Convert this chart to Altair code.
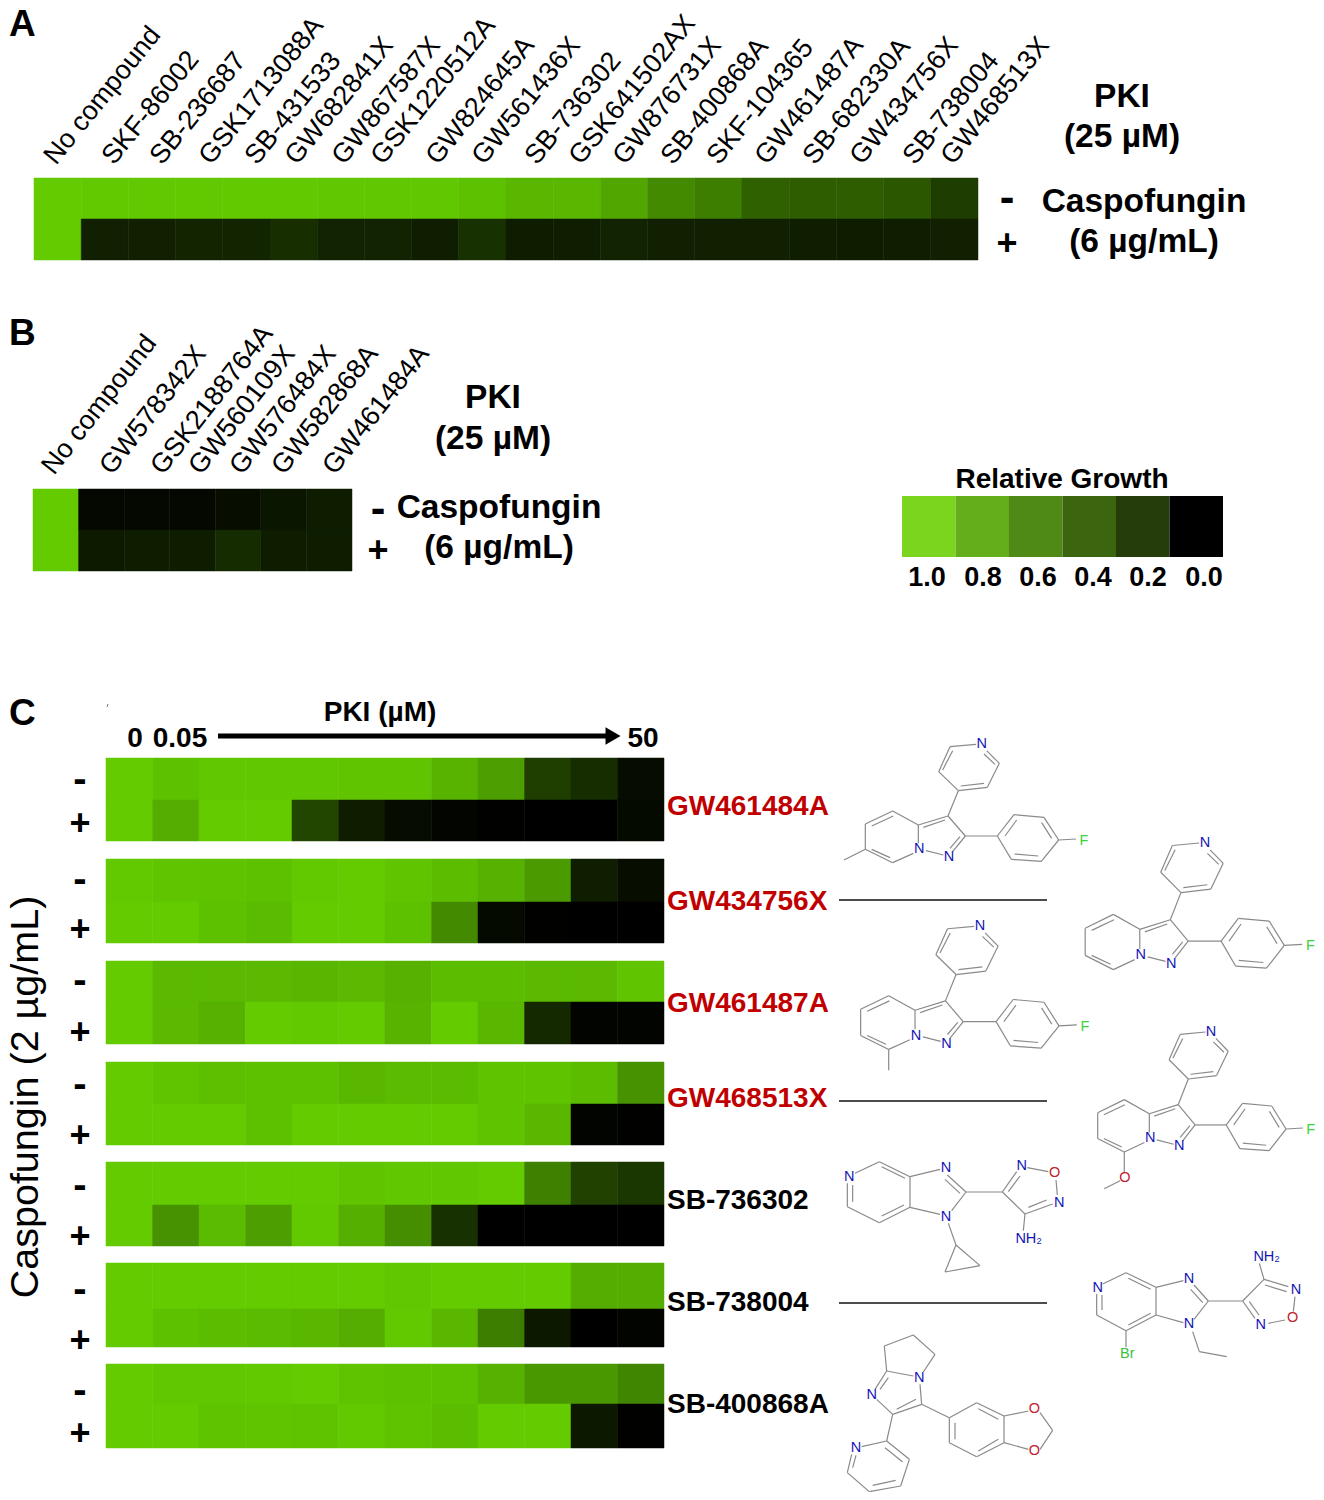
import altair as alt
import pandas as pd

FONT = "Liberation Sans"
TOP = "#63cb00"

# ---------- data ----------
compounds_a = ["No compound", "SKF-86002", "SB-236687", "GSK1713088A", "SB-431533", "GW682841X",
               "GW867587X", "GSK1220512A", "GW824645A", "GW561436X", "SB-736302", "GSK641502AX",
               "GW876731X", "SB-400868A", "SKF-104365", "GW461487A", "SB-682330A", "GW434756X",
               "SB-738004", "GW468513X"]
a_minus = [1, .99, .99, .99, .99, .99, .98, .98, .98, .95, .90, .90, .82, .68, .62, .48, .46, .46, .43, .30]
a_plus = [1, .16, .16, .18, .18, .23, .17, .17, .15, .24, .14, .15, .17, .16, .16, .16, .15, .14, .15, .16]

compounds_b = ["No compound", "GW578342X", "GSK2188764A", "GW560109X", "GW576484X", "GW582868A", "GW461484A"]
b_minus = [1, .04, .04, .04, .07, .11, .14]
b_plus = [1, .13, .14, .14, .21, .14, .14]

legend_labels = ["1.0", "0.8", "0.6", "0.4", "0.2", "0.0"]
legend_colors = ["#7bd41e", "#64ae1c", "#4f8a16", "#3c6510", "#243d0b", "#000000"]

compounds_c = ["GW461484A", "GW434756X", "GW461487A", "GW468513X", "SB-736302", "SB-738004", "SB-400868A"]
compound_colors = ["#c00000"] * 4 + ["#000000"] * 3
c_minus = [
    [1, .95, .98, .98, .98, .97, .97, .88, .78, .31, .22, .06],
    [.99, .97, .96, .95, .99, 1, .97, .93, .87, .76, .15, .07],
    [1, .91, .91, .91, .89, .91, .87, .93, .93, .91, .91, .97],
    [1, .97, .94, .95, .95, .90, .92, .92, .96, .96, .93, .72],
    [1, 1, 1, 1, 1, .97, .98, .98, 1, .63, .32, .27],
    [1, 1, 1, 1, 1, 1, .98, 1, 1, 1, .85, .85],
    [1, .98, .98, .99, 1, .96, .95, .95, .87, .75, .75, .66],
]
c_plus = [
    [1, .85, 1, 1, .34, .14, .06, .03, .01, 0, 0, .05],
    [1, 1, .95, .92, 1, 1, .95, .68, .05, .01, 0, 0],
    [1, .91, .87, 1, .99, 1, .88, 1, .90, .20, .02, .02],
    [1, 1, 1, .95, 1, 1, 1, 1, .96, .90, .02, .01],
    [1, .72, .92, .78, .99, .86, .70, .24, 0, 0, 0, 0],
    [1, .95, .93, .92, .90, .85, .99, .90, .62, .12, 0, .02],
    [1, 1, .96, .97, .96, .99, .96, .93, 1, 1, .12, .01],
]

# ---------- layout (page pixels) ----------
A_X, A_Y = (34, 978), (178, 260)
B_X, B_Y = (33, 352), (489, 571)
LEG_X, LEG_Y = (902, 1223), (496, 557)
C_X = (106, 664)
C_RANGES = [(758, 800, 841), (859, 902, 943), (961, 1002, 1044), (1062, 1104, 1145),
            (1162, 1205, 1246), (1263, 1309, 1347), (1364, 1404, 1448)]
C_SIGNS = [(781, 823), (881, 929), (982, 1032), (1086, 1135), (1187, 1236), (1291, 1340), (1392, 1433)]
C_BASE = [815, 910, 1012, 1107, 1209, 1311, 1413]

A_LABEL_X = [56, 114, 162, 211, 257, 297, 344, 383, 438, 484, 537, 581, 625, 673, 719, 767, 815, 862, 915, 953]
A_LABEL_Y = 166
B_LABEL_X = [54, 112, 163, 201, 242, 284, 335]
B_LABEL_Y = 476

PX = alt.Scale(domain=[8, 1316], range=[0, 1308], nice=False, zero=False)
PY = alt.Scale(domain=[8, 1492], range=[0, 1484], nice=False, zero=False)
GROWTH = alt.Scale(domain=[0, 1], range=["#000000", TOP], interpolate="rgb")


def band(rng):
    return alt.Scale(range=[rng[0] - 8, rng[1] - 8], paddingInner=0, paddingOuter=0)


def heat(columns, rows, xr, yr):
    df = pd.DataFrame([{"col": c, "row": r, "v": v}
                       for r, vals in rows.items() for c, v in zip(columns, vals)])
    return alt.Chart(df).mark_rect(strokeWidth=0.5).encode(
        x=alt.X("col:N", sort=list(columns), scale=band(xr), axis=None),
        y=alt.Y("row:N", sort=list(rows), scale=band(yr), axis=None),
        color=alt.Color("v:Q", scale=GROWTH, legend=None),
        stroke=alt.Stroke("v:Q", scale=GROWTH, legend=None),
    )


def text(items, size, weight="normal", color="#000000", align="center", angle=None, baseline="alphabetic", font=FONT):
    df = pd.DataFrame(items, columns=["t", "x", "y"])
    kw = dict(fontSize=size, fontWeight=weight, color=color, align=align, baseline=baseline, font=font)
    if angle is not None:
        kw["angle"] = angle
    return alt.Chart(df).mark_text(**kw).encode(
        x=alt.X("x:Q", scale=PX, axis=None),
        y=alt.Y("y:Q", scale=PY, axis=None),
        text="t:N",
    )


def rules(segs, color="#8c8c8c", width=1.0):
    df = pd.DataFrame(segs, columns=["x", "y", "x2", "y2"])
    return alt.Chart(df).mark_rule(color=color, strokeWidth=width).encode(
        x=alt.X("x:Q", scale=PX, axis=None), y=alt.Y("y:Q", scale=PY, axis=None), x2="x2:Q", y2="y2:Q"
    )


layers = []

# ---------- panel A / B ----------
layers.append(heat(compounds_a, {"-": a_minus, "+": a_plus}, A_X, A_Y))
layers.append(heat(compounds_b, {"-": b_minus, "+": b_plus}, B_X, B_Y))
layers.append(text([(c, x, A_LABEL_Y) for c, x in zip(compounds_a, A_LABEL_X)], 27, angle=309, align="left"))
layers.append(text([(c, x, B_LABEL_Y) for c, x in zip(compounds_b, B_LABEL_X)], 27, angle=308, align="left"))
layers.append(text([("A", 9, 36), ("B", 9, 345), ("C", 9, 725)], 37, "bold", align="left"))
layers.append(text([("PKI", 1122, 107), ("(25 µM)", 1122, 147), ("Caspofungin", 1144, 212), ("(6 µg/mL)", 1144, 252),
                    ("PKI", 493, 408), ("(25 µM)", 493, 449), ("Caspofungin", 499, 518), ("(6 µg/mL)", 499, 558)],
                   33.5, "bold"))
layers.append(text([("-", 1007, 212), ("-", 378, 523)], 44, "bold"))
layers.append(text([("+", 1007, 255), ("+", 378, 562)], 36, "bold"))

# ---------- legend ----------
leg_df = pd.DataFrame({"g": legend_labels, "c": legend_colors, "row": ["r"] * 6})
layers.append(alt.Chart(leg_df).mark_rect().encode(
    x=alt.X("g:N", sort=legend_labels, scale=band(LEG_X), axis=None),
    y=alt.Y("row:N", scale=band(LEG_Y), axis=None),
    color=alt.Color("c:N", scale=None, legend=None),
))
layers.append(text([("Relative Growth", 1062, 488)], 28, "bold"))
layers.append(text(list(zip(legend_labels, [927, 983, 1038, 1093, 1148, 1204], [586] * 6)), 27, "bold"))

# ---------- panel C ----------
cols = list(range(12))
for i, (top, mid, bot) in enumerate(C_RANGES):
    layers.append(heat(cols, {"-": c_minus[i]}, C_X, (top, mid)))
    layers.append(heat(cols, {"+": c_plus[i]}, C_X, (mid, bot)))
    layers.append(text([(compounds_c[i], 667, C_BASE[i])], 28, "bold", color=compound_colors[i], align="left"))
layers.append(text([("-", 80, s[0] + 11) for s in C_SIGNS], 40, "bold"))
layers.append(text([("+", 80, s[1] + 12) for s in C_SIGNS], 36, "bold"))
layers.append(text([("PKI (µM)", 380, 721), ("0", 135, 747), ("0.05", 180, 747), ("50", 643, 747)], 28, "bold"))
layers.append(text([("Caspofungin (2 µg/mL)", 38, 1097)], 39.5, angle=270))
layers.append(rules([(218, 736, 606, 736)], "#000000", 5))
layers.append(alt.Chart(pd.DataFrame({"x": [613], "y": [736]})).mark_point(
    shape="triangle-right", filled=True, size=300, color="#000000", opacity=1).encode(
    x=alt.X("x:Q", scale=PX, axis=None), y=alt.Y("y:Q", scale=PY, axis=None)))
layers.append(rules([(107, 707, 108, 704)], "#777777", 1))
layers.append(rules([(839, 900, 1047, 900), (839, 1101, 1047, 1101), (839, 1303, 1047, 1303)], "#111111", 1.4))

# ---------- chemical structures (bond ends, 3x crop units) ----------
CORE_BONDS = [
    (470, 62, 508, 100), (508, 100, 472, 172), (472, 172, 385, 182), (385, 182, 326, 125), (326, 125, 360, 50),
    (360, 50, 438, 43), (462, 72, 495, 103), (462, 160, 392, 168), (338, 120, 368, 62),
    (385, 182, 354, 258), (354, 258, 265, 285), (345, 270, 280, 292), (354, 258, 406, 318), (406, 318, 368, 365),
    (390, 320, 360, 355), (340, 375, 288, 362), (265, 340, 265, 285),
    (265, 285, 188, 243), (188, 243, 106, 282), (106, 282, 106, 358), (106, 358, 188, 398), (188, 398, 250, 370),
    (190, 258, 125, 288), (180, 383, 125, 358),
    (406, 318, 502, 318), (502, 318, 552, 254), (552, 254, 642, 262), (642, 262, 686, 330), (686, 330, 634, 394),
    (634, 394, 544, 388), (544, 388, 502, 318), (525, 318, 560, 270), (635, 278, 665, 325), (625, 378, 553, 372),
    (686, 330, 738, 327),
]
CORE_ATOMS = [("N", 455, 42), ("N", 268, 358), ("N", 357, 381), ("F", 762, 333)]
MOL1_EXTRA = [(106, 358, 42, 390)]
MOL3_EXTRA = [(188, 398, 188, 458)]
MOL4_EXTRA = [(188, 398, 188, 460), (175, 483, 126, 507)]
MOL4_ATOMS = [("O", 190, 474)]

MOL5_BONDS = [
    (75, 460, 148, 425), (148, 425, 240, 470), (155, 440, 225, 475), (240, 470, 240, 562), (240, 562, 148, 608),
    (222, 555, 155, 588), (148, 608, 52, 560), (52, 560, 52, 490), (68, 545, 68, 495),
    (240, 470, 330, 448), (352, 465, 408, 516), (345, 478, 390, 520), (408, 516, 365, 572), (330, 583, 240, 562),
    (408, 516, 517, 516), (517, 516, 560, 455), (535, 515, 570, 468), (592, 443, 655, 455), (678, 480, 682, 525),
    (668, 552, 585, 582), (650, 540, 595, 562), (585, 582, 517, 516), (585, 582, 580, 632),
    (355, 610, 378, 675), (378, 675, 450, 737), (450, 737, 345, 756), (345, 756, 378, 675),
]
MOL5_ATOMS = [("N", 58, 472), ("N", 348, 445), ("N", 348, 590), ("N", 575, 438), ("O", 674, 460), ("N", 688, 548),
              ("NH₂", 596, 656)]
MOL6_BONDS = [
    (818, 792, 888, 758), (888, 758, 978, 802), (895, 775, 962, 808), (978, 802, 1060, 782), (1092, 795, 1135, 843),
    (1082, 808, 1118, 848), (1135, 843, 1092, 898), (1060, 908, 978, 885), (978, 802, 978, 885), (978, 885, 888, 932),
    (962, 880, 895, 915), (888, 932, 800, 885), (800, 885, 800, 822), (816, 870, 816, 825), (888, 932, 888, 982),
    (1088, 935, 1108, 995), (1108, 995, 1190, 1010), (1135, 843, 1238, 843), (1238, 843, 1302, 778),
    (1302, 778, 1375, 800), (1305, 795, 1370, 815), (1395, 830, 1390, 875), (1365, 900, 1315, 910),
    (1275, 895, 1238, 843), (1258, 845, 1287, 885), (1302, 778, 1288, 730),
]
MOL6_ATOMS = [("N", 803, 803), ("N", 1077, 778), ("N", 1077, 913), ("N", 1398, 810), ("O", 1388, 895), ("N", 1292, 915),
              ("NH₂", 1310, 712), ("Br", 892, 1002)]
MOL7_BONDS = [
    (163, 990, 250, 957), (250, 957, 315, 1015), (315, 1015, 280, 1068), (163, 990, 170, 1065), (170, 1065, 250, 1080),
    (170, 1065, 135, 1120), (175, 1085, 150, 1120), (140, 1150, 188, 1195), (188, 1195, 275, 1165),
    (200, 1180, 258, 1150), (275, 1165, 270, 1105), (275, 1165, 358, 1205),
    (358, 1205, 440, 1160), (440, 1160, 522, 1200), (522, 1200, 522, 1280), (522, 1280, 440, 1322), (440, 1322, 358, 1280),
    (358, 1280, 358, 1205), (375, 1220, 375, 1270), (445, 1178, 505, 1210), (505, 1270, 445, 1305),
    (522, 1200, 595, 1185), (630, 1190, 668, 1243), (668, 1243, 630, 1300), (595, 1300, 522, 1280),
    (188, 1195, 170, 1275), (170, 1275, 95, 1292), (170, 1275, 238, 1330), (165, 1295, 218, 1338), (238, 1330, 212, 1410),
    (212, 1410, 118, 1427), (197, 1393, 128, 1408), (118, 1427, 52, 1370), (52, 1370, 65, 1315), (68, 1355, 78, 1318),
]
MOL7_ATOMS = [("N", 268, 1085), ("N", 125, 1137), ("O", 613, 1180), ("O", 613, 1306), ("N", 78, 1295)]

ATOM_COLORS = {"N": "#1414b4", "NH₂": "#1414b4", "O": "#c0202c", "F": "#3ad43a", "Br": "#3cbf3c"}
all_bonds, all_atoms = [], []


def place_core(extra, atoms, nx, ny, sx, sy, y0):
    fx = lambda x: 830 + (nx + (x - 455) * sx) / 3
    fy = lambda y: y0 + (ny + (y - 42) * sy) / 3
    for b in CORE_BONDS + extra:
        all_bonds.append((fx(b[0]), fy(b[1]), fx(b[2]), fy(b[3])))
    for a in CORE_ATOMS + atoms:
        all_atoms.append((a[0], fx(a[1]), fy(a[2])))


def place_plain(bonds, atoms, y0):
    for b in bonds:
        all_bonds.append((830 + b[0] / 3, y0 + b[1] / 3, 830 + b[2] / 3, y0 + b[3] / 3))
    for a in atoms:
        all_atoms.append((a[0], 830 + a[1] / 3, y0 + a[2] / 3))


place_core(MOL1_EXTRA, [], 455, 42, 1.0, 1.0, 730)
place_core([], [], 1125, 338, 1.03, 1.07, 730)
place_core(MOL3_EXTRA, [], 450, 588, 1.026, 1.04, 730)
place_core(MOL4_EXTRA, MOL4_ATOMS, 1143, 35, 0.974, 1.014, 1020)
place_plain(MOL5_BONDS, MOL5_ATOMS, 1020)
place_plain(MOL6_BONDS, MOL6_ATOMS, 1020)
place_plain(MOL7_BONDS, MOL7_ATOMS, 1016)

layers.append(rules(all_bonds, "#8a8a8a", 1.2))
for element, colour in ATOM_COLORS.items():
    items = [a for a in all_atoms if a[0] == element]
    layers.append(text(items, 14.5, color=colour, baseline="middle"))

chart = alt.layer(*layers).resolve_scale(
    x="independent", y="independent", color="independent", stroke="independent"
).properties(
    width=1308, height=1484, padding=0, autosize=alt.AutoSizeParams(type="none")
).configure_view(stroke=None)

chart.save("out.html", embed_options={"renderer": "svg", "actions": False})
